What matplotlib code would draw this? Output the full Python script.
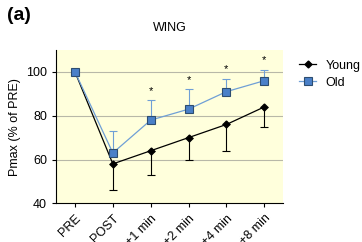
import matplotlib.pyplot as plt
from matplotlib.lines import Line2D

plt.rcParams['font.family'] = ['Liberation Sans', 'DejaVu Sans']

# data
labels = ['PRE', 'POST', '+1 min', '+2 min', '+4 min', '+8 min']
young = [100, 58, 64, 70, 76, 84]
young_err = [0, 12, 11, 10, 12, 9]
old = [100, 63, 78, 83, 91, 96]
old_err = [0, 10, 9, 9, 6, 5]

x = list(range(len(labels)))

fig = plt.figure(figsize=(3.62, 2.42), dpi=100)
ax = fig.add_axes([0.155, 0.16, 0.627, 0.633])
ax.set_facecolor('#ffffdc')

for g in [60, 80, 100]:
    ax.axhline(g, color='#b8b8a8', lw=0.8, zorder=0)

# young: error bars downward only
ax.errorbar(x, young, yerr=[young_err, [0]*len(x)], color='black', lw=0.9,
            marker='D', ms=3.5, capsize=3, elinewidth=0.8, capthick=0.8,
            zorder=3)
# old: error bars upward only
ax.errorbar(x, old, yerr=[[0]*len(x), old_err], color='#6f9fd6', lw=0.9,
            marker='s', ms=6, mfc='#4a80c8', mec='#2d4d70', mew=0.8,
            capsize=3, elinewidth=0.8, capthick=0.8, ecolor='#6f9fd6',
            zorder=4)

# significance stars
for i in range(2, len(x)):
    ax.text(x[i], old[i] + old_err[i] + 4.5, '*', ha='center', va='center', fontsize=8)

ax.set_xlim(-0.5, 5.5)
ax.set_ylim(40, 110)
ax.set_yticks([40, 60, 80, 100])
ax.set_xticks(x)
ax.set_xticklabels(labels, rotation=45, ha='right', rotation_mode='anchor', fontsize=9)
ax.tick_params(axis='y', labelsize=9, length=3)
ax.tick_params(axis='x', length=3)
ax.spines['top'].set_visible(False)
ax.spines['right'].set_visible(False)
ax.set_ylabel('Pmax (% of PRE)', fontsize=9)
ax.set_title('WING', fontsize=9, pad=14)

handles = [
    Line2D([], [], color='black', lw=0.9, marker='D', ms=3.5),
    Line2D([], [], color='#6f9fd6', lw=0.9, marker='s', ms=6,
           mfc='#4a80c8', mec='#2d4d70', mew=0.8),
]
ax.legend(handles, ['Young', 'Old'], loc='upper left', bbox_to_anchor=(1.05, 0.97),
          frameon=False, fontsize=9, handlelength=1.3, handletextpad=0.8,
          labelspacing=0.4, borderaxespad=0)

fig.text(0.02, 0.97, '(a)', fontsize=14, fontweight='bold', va='top')

fig.savefig('out.png', dpi=100)
